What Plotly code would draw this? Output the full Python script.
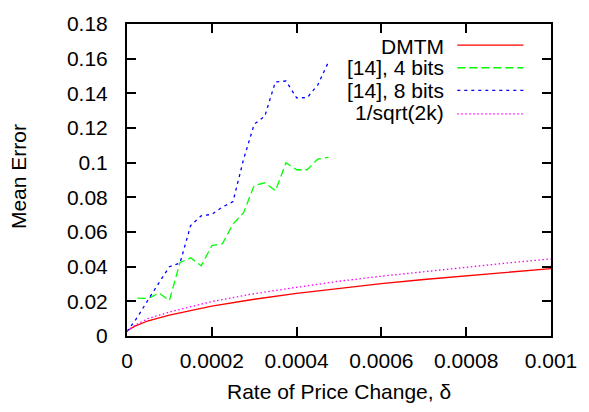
import plotly.graph_objects as go

# ---- data ----
x_theory = [0, 0.00001, 0.00002, 0.00005, 0.0001, 0.0002, 0.0003, 0.0004,
            0.0005, 0.0006, 0.0007, 0.0008, 0.0009, 0.001]
dmtm = [0.003, 0.0045, 0.0058, 0.0088, 0.0120, 0.0172, 0.0212, 0.0246,
        0.0276, 0.0302, 0.0326, 0.0348, 0.0369, 0.0389]
inv_sqrt_2k = [0.0028, 0.0047, 0.0064, 0.0101, 0.0138, 0.0199, 0.0244, 0.0281,
               0.0316, 0.0345, 0.0372, 0.0398, 0.0422, 0.0445]

x_bits4 = [0.000025, 0.00005, 0.000075, 0.0001, 0.000125, 0.00015, 0.000175,
           0.0002, 0.000225, 0.00025, 0.000275, 0.0003, 0.000325, 0.00035,
           0.000375, 0.0004, 0.000425, 0.00045, 0.000475]
bits4 = [0.0219, 0.0216, 0.0248, 0.0205, 0.0424, 0.0451, 0.0405, 0.0521,
         0.0532, 0.0646, 0.0712, 0.0869, 0.0884, 0.0838, 0.0999, 0.0959,
         0.0959, 0.1021, 0.1031]

x_bits8 = [0, 0.000025, 0.00005, 0.000075, 0.0001, 0.000125, 0.00015, 0.000175,
           0.0002, 0.000225, 0.00025, 0.000275, 0.0003, 0.000325, 0.00035,
           0.000375, 0.0004, 0.000425, 0.00045, 0.000475]
bits8 = [0.0025, 0.0110, 0.0210, 0.0305, 0.0400, 0.0421, 0.0637, 0.0693,
         0.0702, 0.0744, 0.0775, 0.1020, 0.1222, 0.1268, 0.1466, 0.1471,
         0.1374, 0.1375, 0.1449, 0.1580]

series_names = ["DMTM", "[14], 4 bits", "[14], 8 bits", "1/sqrt(2k)"]
series_colors = ["#ff0000", "#00ff00", "#0000ff", "#ff00ff"]
series_dash = ["solid", "8px,4px", "3px,4px", "1.5px,2.5px"]

x_ticks = [0, 0.0002, 0.0004, 0.0006, 0.0008, 0.001]
x_tick_labels = ["0", "0.0002", "0.0004", "0.0006", "0.0008", "0.001"]
y_ticks = [0, 0.02, 0.04, 0.06, 0.08, 0.1, 0.12, 0.14, 0.16, 0.18]
y_tick_labels = ["0", "0.02", "0.04", "0.06", "0.08", "0.1", "0.12", "0.14", "0.16", "0.18"]

x_title = "Rate of Price Change, δ"
y_title = "Mean Error"

FONT = "Liberation Sans, Arial, sans-serif"
FS = 21

fig = go.Figure()
xs = [x_theory, x_bits4, x_bits8, x_theory]
ys = [dmtm, bits4, bits8, inv_sqrt_2k]
for name, xv, yv, c, d in zip(series_names, xs, ys, series_colors, series_dash):
    fig.add_trace(go.Scatter(x=xv, y=yv, mode="lines", name=name,
                             line=dict(color=c, width=1.3, dash=d),
                             showlegend=False))

# legend drawn gnuplot-style: text right-aligned, sample line on the right
leg_text_y = [0.9266, 0.8607, 0.7873, 0.7152]
leg_line_y = [0.932, 0.8598, 0.787, 0.712]
for name, c, d, ty, ly in zip(series_names, series_colors, series_dash,
                              leg_text_y, leg_line_y):
    fig.add_annotation(xref="paper", yref="paper", x=0.7465, y=ty, text=name,
                       showarrow=False, xanchor="right", yanchor="middle",
                       xshift=2, font=dict(family=FONT, size=FS, color="black"))
    fig.add_shape(type="line", xref="paper", yref="paper",
                  x0=0.779, x1=0.935, y0=ly, y1=ly,
                  line=dict(color=c, width=1.3, dash=d))

# axis titles placed like the gnuplot original
fig.add_annotation(xref="paper", yref="paper", x=0.5, y=-0.1765, text=x_title,
                   showarrow=False, xanchor="center", yanchor="middle",
                   font=dict(family=FONT, size=FS, color="black"))
fig.add_annotation(xref="paper", yref="paper", x=-0.2558, y=0.511, text=y_title,
                   showarrow=False, xanchor="center", yanchor="middle",
                   textangle=-90, font=dict(family=FONT, size=FS, color="black"))

axis_common = dict(showline=True, linecolor="black", linewidth=2, mirror="ticks",
                   ticks="inside", ticklen=9, tickwidth=2, tickcolor="black",
                   showgrid=False, zeroline=False,
                   tickfont=dict(family=FONT, size=FS, color="black"))

fig.update_xaxes(range=[0, 0.001], tickvals=x_ticks, ticktext=x_tick_labels,
                 ticklabelstandoff=5, **axis_common)
fig.update_yaxes(range=[0, 0.18], tickvals=y_ticks, ticktext=y_tick_labels,
                 ticklabelstandoff=13, **axis_common)

fig.update_layout(width=589, height=412,
                  margin=dict(l=127, r=32, t=13, b=76, pad=0),
                  plot_bgcolor="white", paper_bgcolor="white",
                  font=dict(family=FONT, size=FS, color="black"))

fig.write_html("out.html")
